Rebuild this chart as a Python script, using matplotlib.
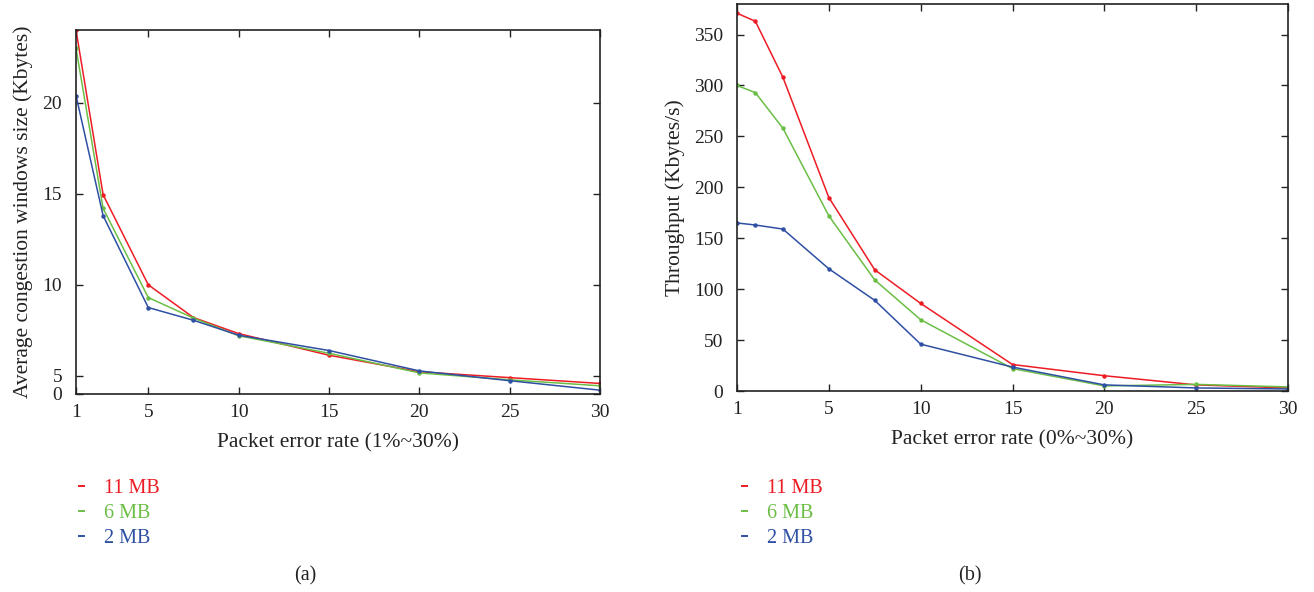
import matplotlib
matplotlib.use("Agg")
import matplotlib.pyplot as plt
from matplotlib.lines import Line2D

plt.rcParams['font.family'] = ['Liberation Serif', 'DejaVu Serif']

# ---- data: (a) average congestion window size ----
x_a = [1, 2.5, 5, 7.5, 10, 15, 20, 25, 30]
cwnd_11mb = [24.0, 14.95, 10.0, 8.2, 7.32, 6.13, 5.22, 4.9, 4.58]
cwnd_6mb = [23.0, 14.2, 9.3, 8.17, 7.2, 6.24, 5.16, 4.78, 4.45]
cwnd_2mb = [20.4, 13.8, 8.75, 8.05, 7.23, 6.39, 5.27, 4.73, 4.21]

# ---- data: (b) throughput ----
x_b = [0, 1, 2.5, 5, 7.5, 10, 15, 20, 25, 30]
thr_11mb = [371, 363, 308, 190, 119, 86, 26, 15, 6, 3]
thr_6mb = [300, 293, 258, 172, 109, 70, 22, 5, 6.5, 4]
thr_2mb = [165, 163, 159, 120, 89, 46, 23.5, 6, 3, 2]

labels = ['11 MB', '6 MB', '2 MB']
colors = ['#ED1C24', '#6BBE45', '#2E4FA3']

xticks_a = [1, 5, 10, 15, 20, 25, 30]
xticklabels_a = ['1', '5', '10', '15', '20', '25', '30']
yticks_a = [4, 5, 10, 15, 20]
yticklabels_a = ['0', '5', '10', '15', '20']

xticks_b = [0, 5, 10, 15, 20, 25, 30]
xticklabels_b = ['1', '5', '10', '15', '20', '25', '30']
yticks_b = [0, 50, 100, 150, 200, 250, 300, 350]

FS_TICK = 14
FS_LABEL = 15.5
FS_LEG = 14.5
TXT = '#222222'

fig = plt.figure(figsize=(13.14, 5.92), dpi=100)
ax1 = fig.add_axes([76/1314, 1-394/592, (600-76)/1314, (394-30)/592])
ax2 = fig.add_axes([737/1314, 1-391/592, (1288-737)/1314, (391-4)/592])


def style(ax):
    ax.tick_params(direction='in', length=5, width=1.0, top=True, right=True,
                   labelsize=FS_TICK, colors=TXT)
    ax.tick_params(axis='x', pad=7)
    ax.tick_params(axis='y', pad=10)
    for s in ax.spines.values():
        s.set_linewidth(1.2)
        s.set_color(TXT)


for ys, c in zip([cwnd_11mb, cwnd_6mb, cwnd_2mb], colors):
    ax1.plot(x_a, ys, color=c, lw=1.1, marker='o', ms=3.2, mew=0)
ax1.set_xlim(1, 30)
ax1.set_ylim(4, 24)
ax1.set_xticks(xticks_a)
ax1.set_xticklabels(xticklabels_a)
ax1.set_yticks(yticks_a)
ax1.set_yticklabels(yticklabels_a)
ax1.set_xlabel('Packet error rate (1%~30%)', fontsize=FS_LABEL, labelpad=9, color=TXT)
ax1.set_ylabel('Average congestion windows size (Kbytes)', fontsize=FS_LABEL, labelpad=7, color=TXT)
style(ax1)

for ys, c in zip([thr_11mb, thr_6mb, thr_2mb], colors):
    ax2.plot(x_b, ys, color=c, lw=1.1, marker='o', ms=3.2, mew=0)
ax2.set_xlim(0, 30)
ax2.set_ylim(0, 380)
ax2.set_xticks(xticks_b)
ax2.set_xticklabels(xticklabels_b)
ax2.set_yticks(yticks_b)
ax2.set_xlabel('Packet error rate (0%~30%)', fontsize=FS_LABEL, labelpad=9, color=TXT)
ax2.set_ylabel('Throughput (Kbytes/s)', fontsize=FS_LABEL, labelpad=6, color=TXT)
style(ax2)

handles = [Line2D([0], [0], color=c, lw=1.4) for c in colors]
for anchor in [(69/1314, 1-469/592), (732/1314, 1-469/592)]:
    fig.legend(handles, labels, loc='upper left', bbox_to_anchor=anchor,
               frameon=False, fontsize=FS_LEG, handlelength=0.25,
               handletextpad=1.0, labelspacing=0.3, borderpad=0,
               labelcolor=colors)

fig.text(305/1314, 1-576/592, '(a)', ha='center', va='center', fontsize=FS_LEG, color=TXT)
fig.text(970/1314, 1-576/592, '(b)', ha='center', va='center', fontsize=FS_LEG, color=TXT)

fig.savefig('out.png', dpi=100)
